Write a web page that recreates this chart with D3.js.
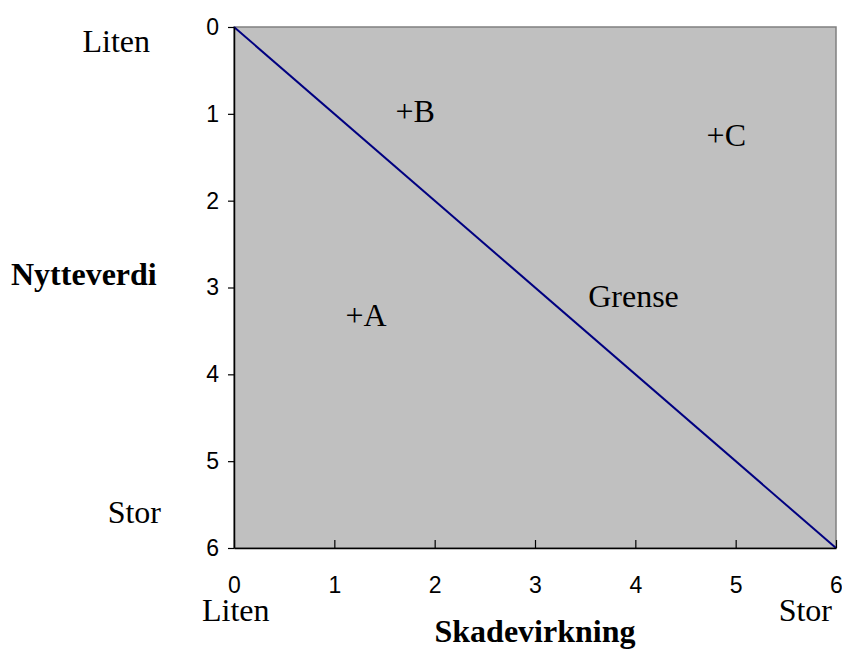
<!DOCTYPE html>
<html>
<head>
<meta charset="utf-8">
<script src="https://cdn.jsdelivr.net/npm/d3@7"></script>
<style>
  html, body { margin: 0; padding: 0; background: #fff; }
  svg { display: block; }
</style>
</head>
<body>
<svg id="chart" width="842" height="650"></svg>
<script>
// ---- data ----
const xTicks = [0, 1, 2, 3, 4, 5, 6];
const yTicks = [0, 1, 2, 3, 4, 5, 6];
const boundaryX = [0, 6];
const boundaryY = [0, 6];
const pointNames = ["A", "B", "C"];
const pointX = [1.2, 1.7, 4.8];
const pointY = [3.35, 1.0, 1.28];
const boundaryLabel = "Grense";
const boundaryLabelPos = [3.53, 3.22];
const xTitle = "Skadevirkning";
const yTitle = "Nytteverdi";
const lowLabel = "Liten";
const highLabel = "Stor";

// ---- layout ----
const svg = d3.select("#chart");
const L = 234, R = 836, T = 27, B = 548;
const x = d3.scaleLinear().domain([0, 6]).range([L, R]);
const y = d3.scaleLinear().domain([0, 6]).range([T, B]);
const serif = "'Liberation Serif', 'Times New Roman', serif";
const sans = "'Liberation Sans', Arial, sans-serif";

// plot background
svg.append("rect")
  .attr("x", L).attr("y", T).attr("width", R - L).attr("height", B - T)
  .attr("fill", "#c0c0c0").attr("stroke", "#808080").attr("stroke-width", 1.5);

// boundary line
svg.append("path")
  .datum(boundaryX.map((v, i) => [v, boundaryY[i]]))
  .attr("d", d3.line().x(d => x(d[0])).y(d => y(d[1])))
  .attr("fill", "none").attr("stroke", "#000080").attr("stroke-width", 2);

// y axis (left, ticks outward)
const yAxis = svg.append("g").attr("transform", `translate(${L},0)`)
  .call(d3.axisLeft(y).tickValues(yTicks).tickFormat(d3.format("d")).tickSize(6).tickSizeOuter(0).tickPadding(9));
yAxis.select(".domain").attr("stroke", "#000").attr("stroke-width", 1.5);
yAxis.selectAll(".tick line").attr("stroke", "#000").attr("stroke-width", 1.2);
yAxis.selectAll(".tick text").attr("font-family", sans).attr("font-size", 23).attr("fill", "#000");

// x axis (bottom, ticks inward)
const xAxis = svg.append("g").attr("transform", `translate(0,${B})`)
  .call(d3.axisBottom(x).tickValues(xTicks).tickFormat(d3.format("d")).tickSizeInner(-8).tickSizeOuter(0).tickPadding(29));
xAxis.select(".domain").attr("stroke", "#000").attr("stroke-width", 1.5);
xAxis.selectAll(".tick line").attr("stroke", "#000").attr("stroke-width", 1.2);
xAxis.selectAll(".tick text").attr("font-family", sans).attr("font-size", 23).attr("fill", "#000");

// point labels "+A" with plus centred on the point
svg.append("g").selectAll("text")
  .data(pointNames.map((n, i) => ({ n, x: pointX[i], y: pointY[i] })))
  .join("text")
  .attr("x", d => x(d.x) - 9)
  .attr("y", d => y(d.y) + 8)
  .attr("font-family", serif).attr("font-size", 32).attr("fill", "#000")
  .text(d => "+" + d.n);

// boundary label
svg.append("text")
  .attr("x", x(boundaryLabelPos[0])).attr("y", y(boundaryLabelPos[1]))
  .attr("font-family", serif).attr("font-size", 32).attr("fill", "#000")
  .text(boundaryLabel);

// y side labels
svg.append("text").attr("x", 150).attr("y", 52).attr("text-anchor", "end")
  .attr("font-family", serif).attr("font-size", 32).text(lowLabel);
svg.append("text").attr("x", 161).attr("y", 523).attr("text-anchor", "end")
  .attr("font-family", serif).attr("font-size", 32).text(highLabel);
svg.append("text").attr("x", 11).attr("y", 285)
  .attr("font-family", serif).attr("font-size", 32).attr("font-weight", "bold").text(yTitle);

// x side labels
svg.append("text").attr("x", 202).attr("y", 621)
  .attr("font-family", serif).attr("font-size", 32).text(lowLabel);
svg.append("text").attr("x", 832).attr("y", 621).attr("text-anchor", "end")
  .attr("font-family", serif).attr("font-size", 32).text(highLabel);
svg.append("text").attr("x", (L + R) / 2).attr("y", 642).attr("text-anchor", "middle")
  .attr("font-family", serif).attr("font-size", 32).attr("font-weight", "bold").text(xTitle);
</script>
</body>
</html>
